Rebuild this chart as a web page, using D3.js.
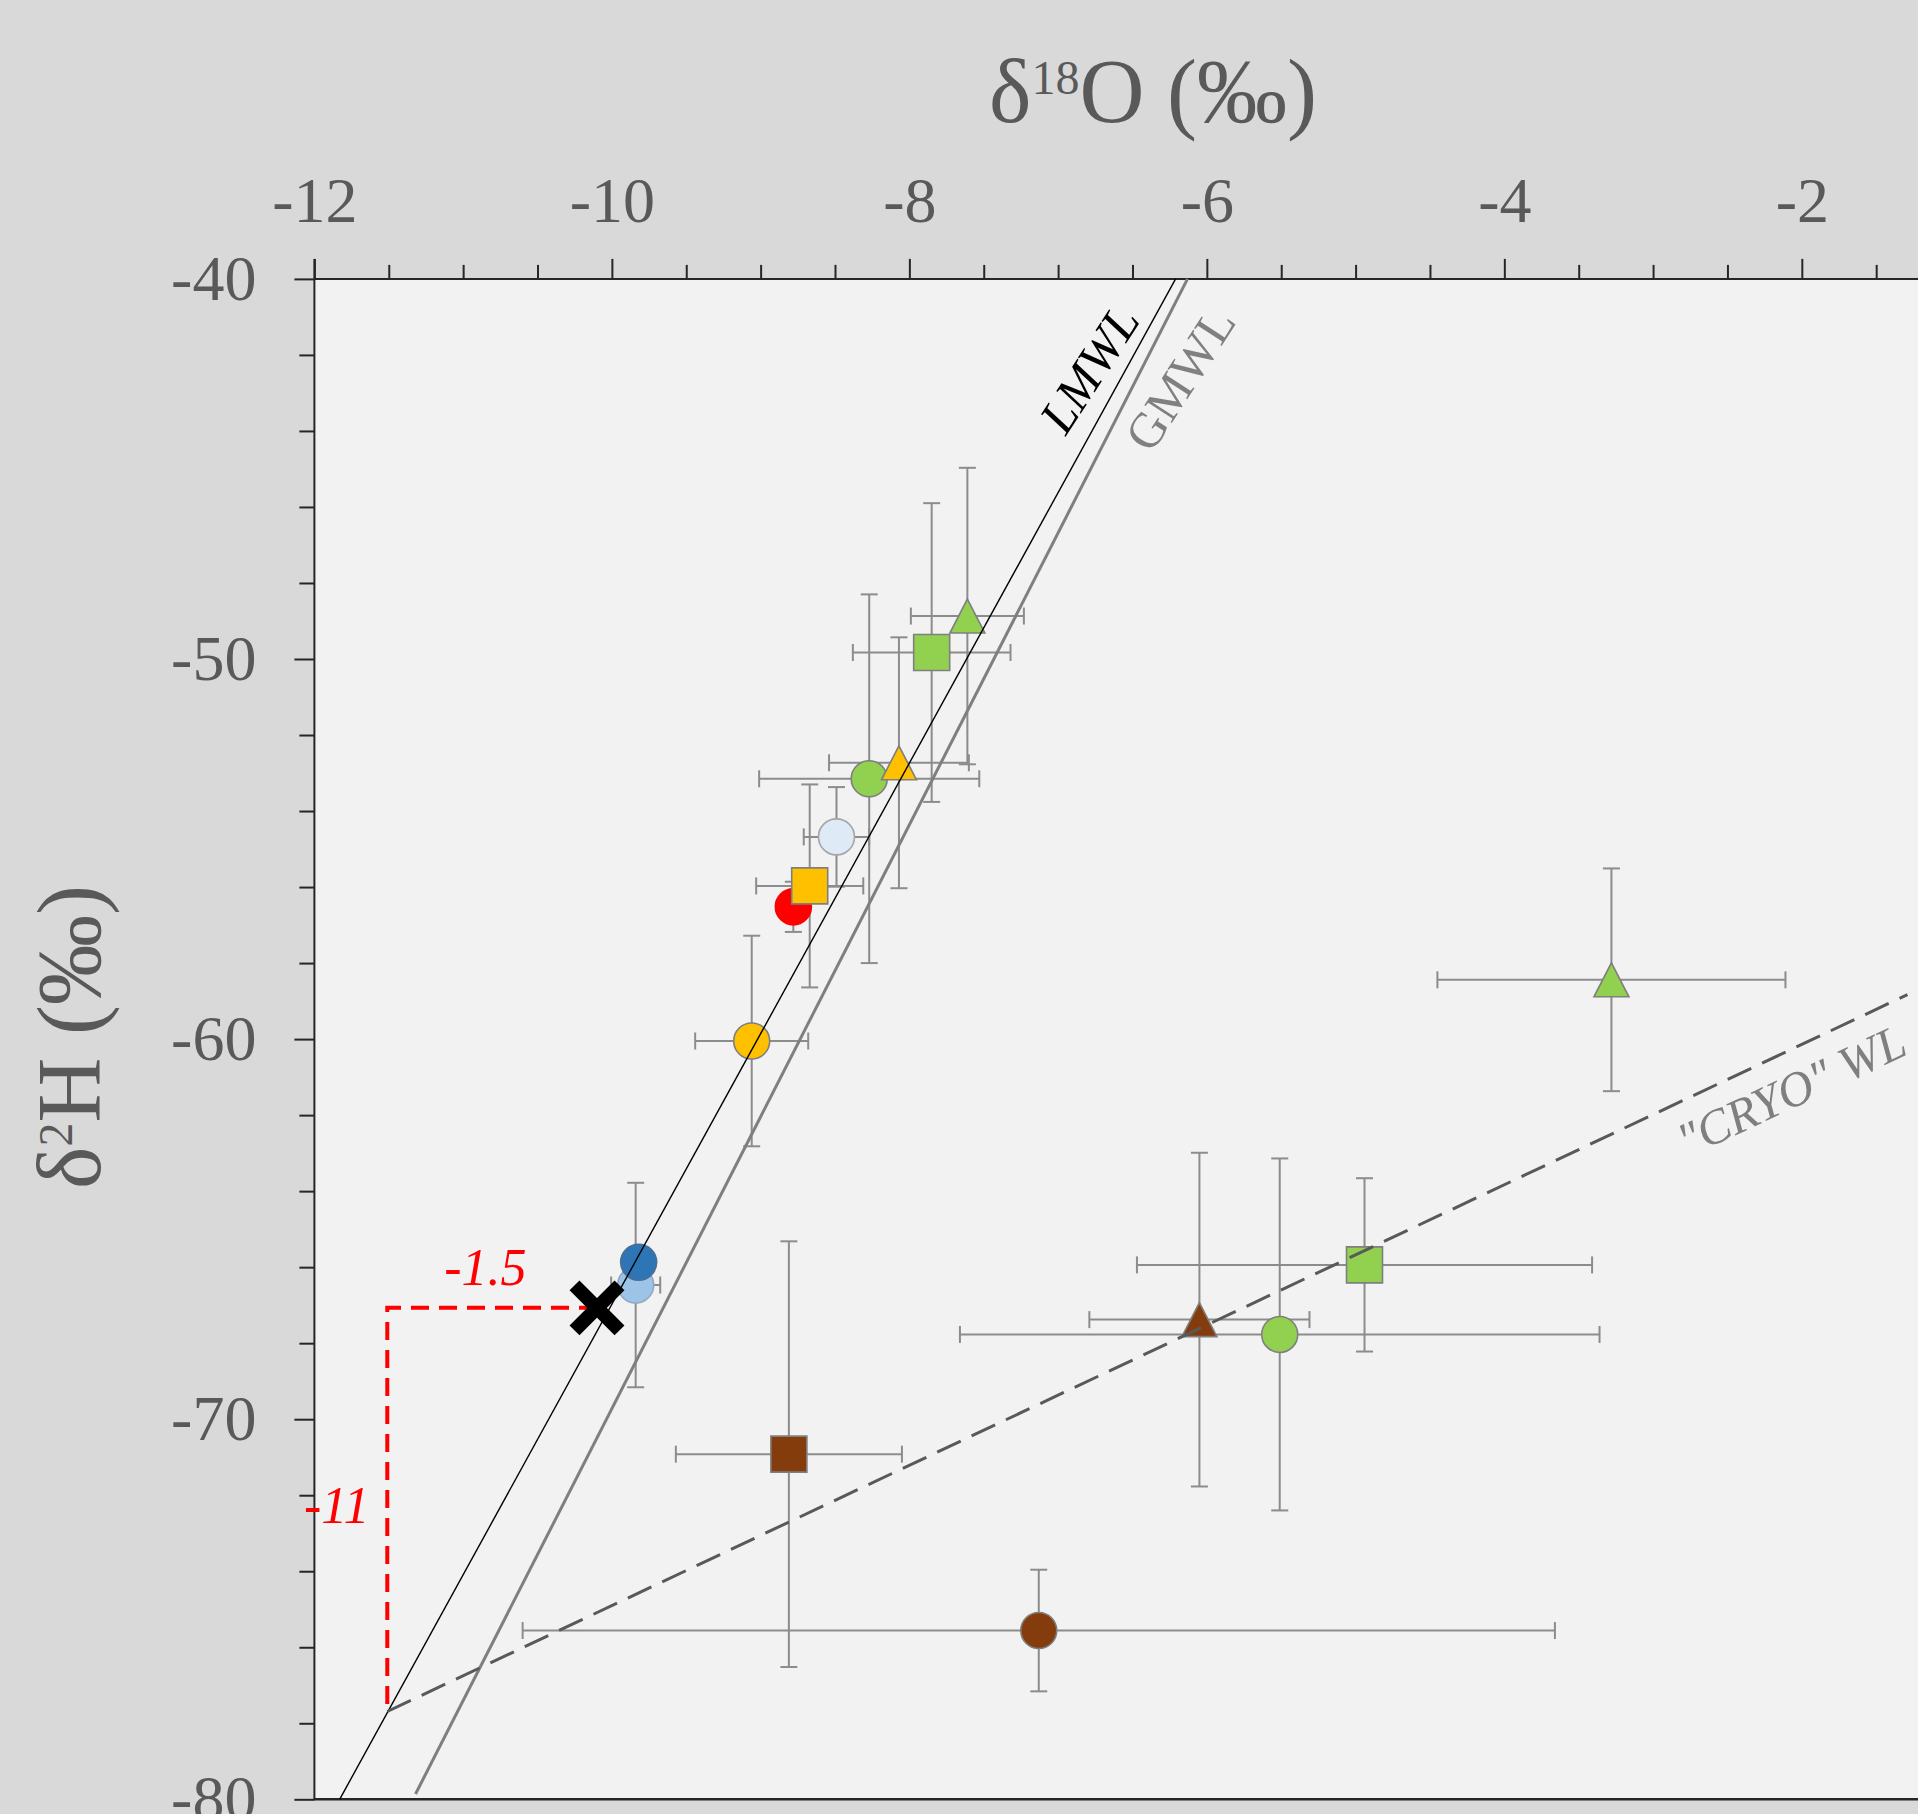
<!DOCTYPE html>
<html><head><meta charset="utf-8">
<script src="https://cdn.jsdelivr.net/npm/d3@7"></script>
<style>html,body{margin:0;padding:0;background:#d9d9d9;overflow:hidden}</style>
</head><body>
<svg id="chart" width="1918" height="1814"></svg>
<script>
// ---------------- data ----------------
const xTicks = [-12, -10, -8, -6, -4, -2];
const yTicks = [-40, -50, -60, -70, -80];
const groups = ["red-circle", "yellow-square", "pale-circle", "yellow-circle", "green-circle",
  "yellow-triangle", "green-square", "green-triangle", "lightblue-circle", "blue-circle",
  "brown-square", "brown-circle", "brown-triangle", "green-circle", "green-square", "green-triangle"];
const d18O    = [-8.78, -8.67, -8.49, -9.06, -8.27, -8.07, -7.85, -7.61, -9.84, -9.82, -8.81, -7.13, -6.05, -5.51, -4.94, -3.28];
const d2H     = [-56.52, -55.97, -54.68, -60.05, -53.15, -52.73, -49.83, -48.87, -66.47, -65.87, -70.92, -75.56, -67.38, -67.77, -65.94, -58.44];
const d18OErr = [0.10, 0.36, 0.22, 0.38, 0.74, 0.47, 0.53, 0.38, 0.165, 0.0, 0.76, 3.47, 0.74, 2.15, 1.53, 1.17];
const d2HErr  = [0.66, 2.67, 1.31, 2.77, 4.85, 3.30, 3.93, 3.90, 2.69, 0.0, 5.60, 1.60, 4.39, 4.63, 2.28, 2.93];

const lmwl   = [[-11.83, -80], [-6.21, -40]];
const gmwl   = [[-11.32, -79.86], [-6.13, -40]];
const cryoWL = [[-11.51, -77.69], [-1.29, -58.83]];
const mixPoint = [-10.10, -67.07];
const shiftPath = [[-10.10, -67.07], [-11.51, -67.07], [-11.51, -77.6]];
const shiftLabels = [{t: "-1.5", x: -10.85, y: -66.47}, {t: "-11", x: -11.85, y: -72.74}];
const lineLabels = [
  {t: "LMWL", x: -6.79, y: -42.37, angle: -57, fill: "#000000", italic: true, size: 50},
  {t: "GMWL", x: -6.18, y: -42.63, angle: -57, fill: "#808080", italic: false, size: 50},
  {t: "\"CRYO\" WL", x: -2.07, y: -61.36, angle: -25.2, fill: "#7f7f7f", italic: true, size: 49}
];

// ---------------- styles ----------------
const groupStyle = {
  "red-circle":       {shape: "circle",   fill: "#ff0000", stroke: "#ff0000"},
  "yellow-square":    {shape: "square",   fill: "#ffc000", stroke: "#7f7f7f"},
  "pale-circle":      {shape: "circle",   fill: "#deebf7", stroke: "#a6a6a6"},
  "yellow-circle":    {shape: "circle",   fill: "#ffc000", stroke: "#7f7f7f"},
  "green-circle":     {shape: "circle",   fill: "#92d050", stroke: "#7f7f7f"},
  "yellow-triangle":  {shape: "triangle", fill: "#ffc000", stroke: "#7f7f7f"},
  "green-square":     {shape: "square",   fill: "#92d050", stroke: "#7f7f7f"},
  "green-triangle":   {shape: "triangle", fill: "#92d050", stroke: "#7f7f7f"},
  "lightblue-circle": {shape: "circle",   fill: "#9dc3e6", stroke: "#8fa9c4"},
  "blue-circle":      {shape: "circle",   fill: "#2e75b6", stroke: "#4a6f94"},
  "brown-square":     {shape: "square",   fill: "#843c0c", stroke: "#7f7f7f"},
  "brown-circle":     {shape: "circle",   fill: "#843c0c", stroke: "#7f7f7f"},
  "brown-triangle":   {shape: "triangle", fill: "#843c0c", stroke: "#7f7f7f"}
};

const W = 1918, H = 1814;
const svg = d3.select("#chart");
const x = d3.scaleLinear().domain([-12, 0]).range([314.4, 2099.3]);
const y = d3.scaleLinear().domain([-80, -40]).range([1799.3, 278.9]);
const FONT = "'Liberation Serif','Times New Roman',serif";
const TXT = "#595959";
const fmt = d => String(d);

svg.append("rect").attr("width", W).attr("height", H).attr("fill", "#d9d9d9");
svg.append("rect").attr("x", x(-12)).attr("y", y(-40))
  .attr("width", W - x(-12)).attr("height", y(-80) - y(-40)).attr("fill", "#f2f2f2");

// ---------------- axes ----------------
const axColor = "#262626";
const xMinor = d3.range(-12, -1.4, 0.5).filter(v => Math.abs(v - Math.round(v)) > 0.1 || Math.round(v) % 2 !== 0);
const yMinor = d3.range(-80, -39, 2).filter(v => v % 10 !== 0);

const gxMinor = svg.append("g").attr("transform", `translate(0,${y(-40)})`)
  .call(d3.axisTop(x).tickValues(xMinor).tickSize(14).tickSizeOuter(0).tickFormat(""));
const gx = svg.append("g").attr("transform", `translate(0,${y(-40)})`)
  .call(d3.axisTop(x).tickValues(xTicks).tickSize(20).tickSizeOuter(0).tickPadding(37).tickFormat(fmt));
const gyMinor = svg.append("g").attr("transform", `translate(${x(-12)},0)`)
  .call(d3.axisLeft(y).tickValues(yMinor).tickSize(15).tickSizeOuter(0).tickFormat(""));
const gy = svg.append("g").attr("transform", `translate(${x(-12)},0)`)
  .call(d3.axisLeft(y).tickValues(yTicks).tickSize(20).tickSizeOuter(0).tickPadding(38).tickFormat(fmt));
[gxMinor, gx, gyMinor, gy].forEach(g => {
  g.select(".domain").remove();
  g.selectAll(".tick line").attr("stroke", axColor).attr("stroke-width", 2);
  g.selectAll(".tick text").attr("fill", TXT).attr("font-family", FONT).attr("font-size", 64);
});
// axis lines (top, left, bottom frame)
svg.append("line").attr("x1", x(-12)).attr("x2", W).attr("y1", y(-40)).attr("y2", y(-40))
  .attr("stroke", axColor).attr("stroke-width", 2);
svg.append("line").attr("x1", x(-12)).attr("x2", x(-12)).attr("y1", y(-40) - 20).attr("y2", y(-80) + 1)
  .attr("stroke", axColor).attr("stroke-width", 2);
svg.append("line").attr("x1", x(-12)).attr("x2", W).attr("y1", y(-80)).attr("y2", y(-80))
  .attr("stroke", axColor).attr("stroke-width", 2.5);

// axis titles
const xt = svg.append("text").attr("x", 1153).attr("y", 122).attr("text-anchor", "middle")
  .attr("font-family", FONT).attr("font-size", 90).attr("fill", TXT);
xt.append("tspan").text("δ");
xt.append("tspan").attr("font-size", 48).attr("dy", -28).text("18");
xt.append("tspan").attr("dy", 28).text("O (‰)");

const yt = svg.append("text").attr("transform", "translate(100,1037) rotate(-90)").attr("text-anchor", "middle")
  .attr("font-family", FONT).attr("font-size", 90).attr("fill", TXT);
yt.append("tspan").text("δ");
yt.append("tspan").attr("font-size", 48).attr("dy", -28).text("2");
yt.append("tspan").attr("dy", 28).text("H (‰)");

// ---------------- plot content ----------------
const plot = svg.append("g");
const pts = groups.map((g, i) => ({g, x: d18O[i], y: d2H[i], ex: d18OErr[i], ey: d2HErr[i]}));
const ebColor = "#8c8c8c", cap = 8.5;

// error bars
const eb = plot.append("g").attr("stroke", ebColor).attr("stroke-width", 2).attr("fill", "none");
pts.forEach(p => {
  if (p.ex > 0) {
    eb.append("line").attr("x1", x(p.x - p.ex)).attr("x2", x(p.x + p.ex)).attr("y1", y(p.y)).attr("y2", y(p.y));
    [p.x - p.ex, p.x + p.ex].forEach(v => eb.append("line").attr("x1", x(v)).attr("x2", x(v))
      .attr("y1", y(p.y) - cap).attr("y2", y(p.y) + cap));
  }
  if (p.ey > 0) {
    eb.append("line").attr("x1", x(p.x)).attr("x2", x(p.x)).attr("y1", y(p.y - p.ey)).attr("y2", y(p.y + p.ey));
    [p.y - p.ey, p.y + p.ey].forEach(v => eb.append("line").attr("y1", y(v)).attr("y2", y(v))
      .attr("x1", x(p.x) - cap).attr("x2", x(p.x) + cap));
  }
});

// markers
function shapePath(s) {
  if (s === "circle") { const r = 18; return `M${-r},0A${r},${r} 0 1,0 ${r},0A${r},${r} 0 1,0 ${-r},0Z`; }
  if (s === "square") { const h = 18; return `M${-h},${-h}H${h}V${h}H${-h}Z`; }
  return "M0,-17L17.5,17L-17.5,17Z";
}
plot.append("g").selectAll("path").data(pts).join("path")
  .attr("transform", d => `translate(${x(d.x)},${y(d.y)})`)
  .attr("d", d => shapePath(groupStyle[d.g].shape))
  .attr("fill", d => groupStyle[d.g].fill)
  .attr("stroke", d => groupStyle[d.g].stroke)
  .attr("stroke-width", 1.6);

// water lines
const lineGen = d3.line().x(d => x(d[0])).y(d => y(d[1]));
plot.append("path").attr("d", lineGen(gmwl)).attr("stroke", "#7f7f7f").attr("stroke-width", 3).attr("fill", "none");
plot.append("path").attr("d", lineGen(lmwl)).attr("stroke", "#000").attr("stroke-width", 1.4).attr("fill", "none");
plot.append("path").attr("d", lineGen(cryoWL)).attr("stroke", "#595959").attr("stroke-width", 3)
  .attr("stroke-dasharray", "26,12").attr("fill", "none");

// line labels
lineLabels.forEach(l => {
  svg.append("text").attr("transform", `translate(${x(l.x)},${y(l.y)}) rotate(${l.angle})`)
    .attr("text-anchor", "middle").attr("dominant-baseline", "central")
    .attr("font-family", FONT).attr("font-size", l.size).attr("font-style", l.italic ? "italic" : "normal")
    .attr("fill", l.fill).text(l.t);
});

// isotope shift annotation
plot.append("path").attr("d", lineGen(shiftPath)).attr("stroke", "#ff0000").attr("stroke-width", 4)
  .attr("stroke-dasharray", "18,10").attr("fill", "none");
shiftLabels.forEach(l => {
  svg.append("text").attr("x", x(l.x)).attr("y", y(l.y)).attr("text-anchor", "middle")
    .attr("font-family", FONT).attr("font-size", 52).attr("font-style", "italic").attr("fill", "#ff0000").text(l.t);
});

// mixing point X
const mx = x(mixPoint[0]), my = y(mixPoint[1]), a = 22.5;
const xg = plot.append("g").attr("stroke", "#000").attr("stroke-width", 14);
xg.append("line").attr("x1", mx - a).attr("y1", my - a).attr("x2", mx + a).attr("y2", my + a);
xg.append("line").attr("x1", mx - a).attr("y1", my + a).attr("x2", mx + a).attr("y2", my - a);
</script>
</body></html>
